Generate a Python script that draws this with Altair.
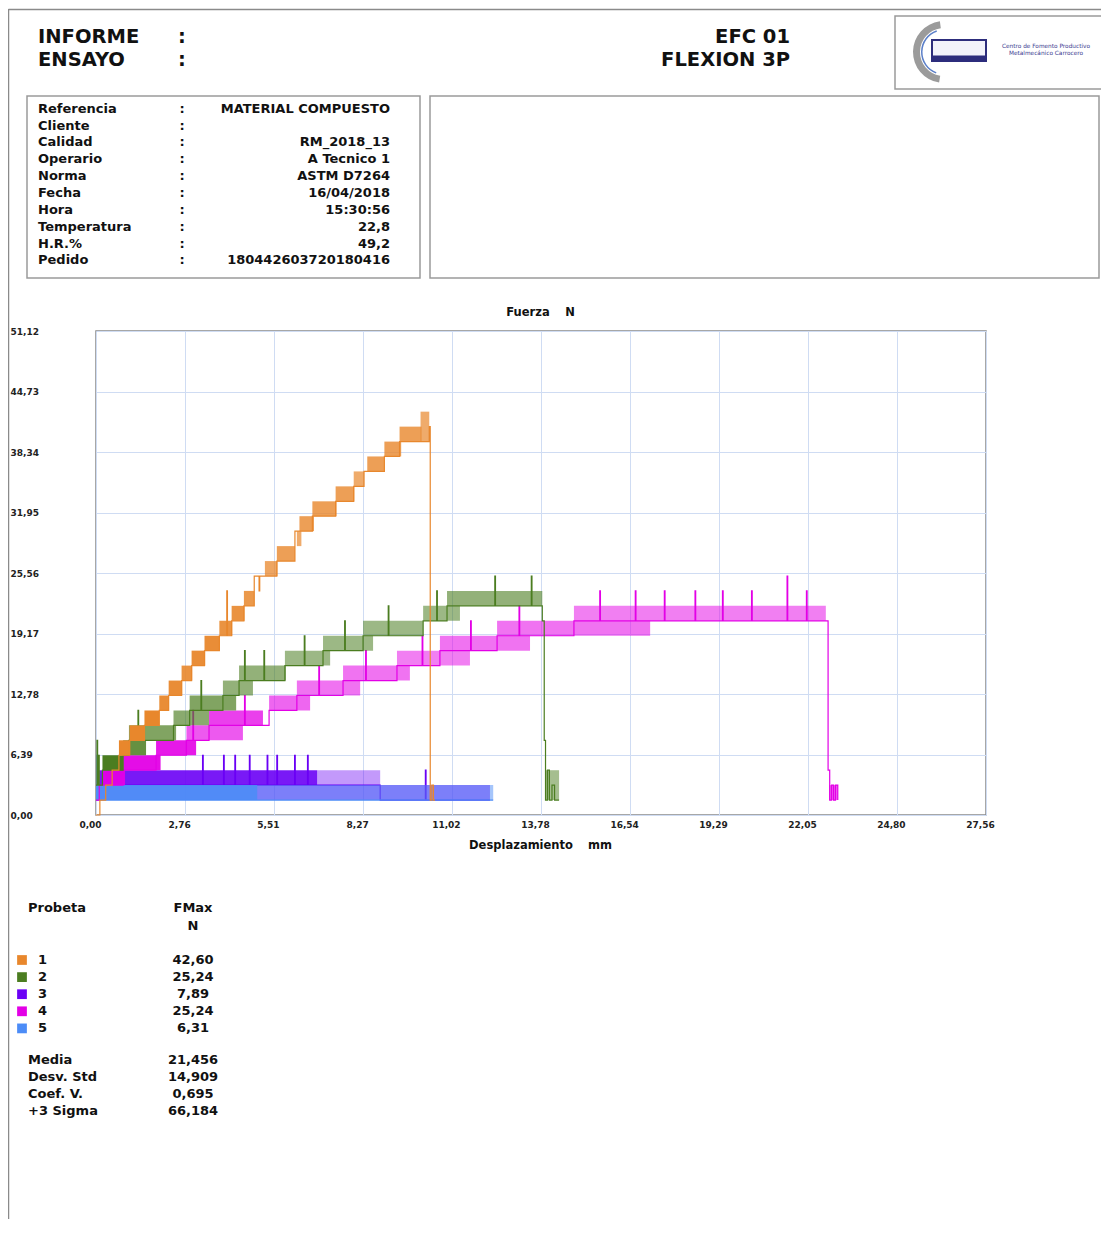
import altair as alt
import pandas as pd

FONT = "DejaVu Sans"

# ---------------- data ----------------
series_names = ["1", "2", "3", "4", "5"]
series_colors = ["#E8872C", "#4B7D20", "#6A00F5", "#E300E6", "#4C8CF7"]
fmax_values = ["42,60", "25,24", "7,89", "25,24", "6,31"]
stat_labels = ["Media", "Desv. Std", "Coef. V.", "+3 Sigma"]
stat_values = ["21,456", "14,909", "0,695", "66,184"]
info_labels = ["Referencia", "Cliente", "Calidad", "Operario", "Norma", "Fecha",
               "Hora", "Temperatura", "H.R.%", "Pedido"]
info_values = ["MATERIAL COMPUESTO", "", "RM_2018_13", "A Tecnico 1", "ASTM D7264",
               "16/04/2018", "15:30:56", "22,8", "49,2", "180442603720180416"]
x_ticks = [0, 2.76, 5.51, 8.27, 11.02, 13.78, 16.54, 19.29, 22.05, 24.80, 27.56]
y_ticks = [0, 6.39, 12.78, 19.17, 25.56, 31.95, 38.34, 44.73, 51.12]

# Probeta 1 (orange): bands where the signal toggles between two levels
o_x0 = [0.71, 1.04, 1.50, 1.96, 2.25, 2.65, 2.96, 3.36, 3.82, 4.20, 4.58, 5.23, 5.60, 6.22, 6.30, 6.70, 7.42, 7.98, 8.40, 8.93, 9.40, 10.05]
o_x1 = [1.06, 1.52, 1.96, 2.26, 2.67, 2.98, 3.38, 3.84, 4.22, 4.60, 4.90, 5.62, 6.16, 6.36, 6.75, 7.45, 8.00, 8.30, 8.93, 9.45, 10.08, 10.32]
o_lo = [6.31, 7.89, 9.47, 11.04, 12.62, 14.20, 15.78, 17.36, 18.93, 20.51, 22.09, 25.24, 26.82, 28.40, 29.98, 31.56, 33.13, 34.71, 36.29, 37.87, 39.44, 39.44]
o_hi = [7.89, 9.47, 11.04, 12.62, 14.20, 15.78, 17.36, 18.93, 20.51, 22.09, 23.67, 26.82, 28.40, 29.98, 31.56, 33.13, 34.71, 36.29, 37.87, 39.44, 41.02, 42.60]
o_dens = [1.0, 1.0, 1.0, 0.95, 0.95, 0.9, 0.95, 0.95, 0.9, 0.9, 0.85, 0.75, 0.8, 0.7, 0.8, 0.8, 0.8, 0.7, 0.8, 0.8, 0.8, 0.7]
o_lx = [0.00, 0.12, 0.30, 0.50, 0.71, 1.04, 1.50, 1.96, 2.25, 2.65, 2.96, 3.36, 3.82, 4.05, 4.07, 4.20, 4.58, 4.90, 5.05, 5.07, 5.23, 5.60, 6.16, 6.70, 7.42, 7.98, 8.30, 8.40, 8.93, 9.40, 10.05, 10.32, 10.35, 10.40, 10.45, 10.50]
o_ly = [0.00, 1.58, 3.16, 4.73, 6.31, 7.89, 9.47, 11.04, 12.62, 14.20, 15.78, 17.36, 18.93, 23.67, 18.93, 20.51, 22.09, 25.24, 23.67, 25.24, 25.24, 26.82, 29.98, 31.56, 33.13, 34.71, 36.29, 36.29, 37.87, 39.44, 39.44, 41.02, 1.58, 3.16, 1.58, 1.58]

# Probeta 2 (green)
g_x0 = [0.20, 0.84, 1.02, 2.40, 2.90, 3.93, 4.43, 5.85, 7.03, 8.27, 10.13, 10.87, 13.92]
g_x1 = [0.84, 1.55, 2.48, 3.50, 4.34, 4.86, 5.88, 7.25, 8.58, 10.13, 11.27, 13.82, 14.34]
g_lo = [4.73, 6.31, 7.89, 9.47, 11.04, 12.62, 14.20, 15.78, 17.36, 18.93, 20.51, 22.09, 1.58]
g_hi = [6.31, 7.89, 9.47, 11.04, 12.62, 14.20, 15.78, 17.36, 18.93, 20.51, 22.09, 23.67, 4.73]
g_dens = [1.0, 0.85, 0.7, 0.65, 0.7, 0.6, 0.6, 0.55, 0.55, 0.55, 0.55, 0.6, 0.5]
g_lx = [0.00, 0.03, 0.05, 0.08, 0.10, 0.20, 0.84, 1.02, 1.30, 1.32, 2.40, 2.90, 3.25, 3.27, 3.93, 4.43, 4.60, 4.62, 5.20, 5.22, 5.85, 6.45, 6.47, 7.03, 7.70, 7.72, 8.27, 9.05, 9.07, 10.13, 10.55, 10.57, 10.87, 12.35, 12.37, 13.48, 13.50, 13.82, 13.88, 13.92, 13.98, 14.04, 14.12, 14.20, 14.34]
g_ly = [3.16, 7.89, 3.16, 6.31, 3.16, 4.73, 6.31, 7.89, 11.04, 7.89, 9.47, 11.04, 14.20, 11.04, 12.62, 14.20, 17.36, 14.20, 17.36, 14.20, 15.78, 18.93, 15.78, 17.36, 20.51, 17.36, 18.93, 22.09, 18.93, 20.51, 23.67, 20.51, 22.09, 25.24, 22.09, 25.24, 22.09, 20.51, 7.89, 1.58, 4.73, 1.58, 3.16, 1.58, 1.58]

# Probeta 3 (violet)
p_x0 = [0.10, 0.10, 6.85]
p_x1 = [6.85, 12.20, 8.80]
p_lo = [3.16, 1.58, 3.16]
p_hi = [4.73, 3.16, 4.73]
p_dens = [0.9, 0.55, 0.4]
p_lx = [0.00, 0.10, 3.30, 3.32, 3.95, 3.97, 4.30, 4.32, 4.75, 4.77, 5.30, 5.32, 5.60, 5.62, 6.15, 6.17, 6.55, 6.57, 6.85, 8.80, 10.20, 10.22, 12.20]
p_ly = [1.58, 3.16, 6.31, 3.16, 6.31, 3.16, 6.31, 3.16, 6.31, 3.16, 6.31, 3.16, 6.31, 3.16, 6.31, 3.16, 6.31, 3.16, 3.16, 1.58, 4.73, 1.58, 1.58]

# Probeta 4 (magenta)
m_x0 = [0.20, 0.84, 1.86, 2.80, 3.50, 5.36, 6.22, 7.65, 9.32, 10.65, 12.42, 14.80, 22.70]
m_x1 = [0.90, 2.00, 3.10, 4.55, 5.17, 6.63, 8.18, 9.72, 11.58, 13.44, 17.16, 22.60, 22.97]
m_lo = [3.16, 4.73, 6.31, 7.89, 9.47, 11.04, 12.62, 14.20, 15.78, 17.36, 18.93, 20.51, 1.58]
m_hi = [4.73, 6.31, 7.89, 9.47, 11.04, 12.62, 14.20, 15.78, 17.36, 18.93, 20.51, 22.09, 3.16]
m_dens = [0.95, 0.95, 0.9, 0.65, 0.75, 0.6, 0.55, 0.55, 0.5, 0.55, 0.55, 0.5, 0.6]
m_lx = [0.00, 0.10, 0.20, 0.84, 1.86, 2.80, 3.00, 3.02, 3.50, 4.60, 4.62, 5.36, 6.22, 6.90, 6.92, 7.65, 8.35, 8.37, 9.32, 10.10, 10.12, 10.65, 11.60, 11.62, 12.42, 13.10, 13.12, 14.80, 15.60, 15.62, 16.70, 16.72, 17.60, 17.62, 18.55, 18.57, 19.40, 19.42, 20.30, 20.32, 21.40, 21.42, 22.00, 22.02, 22.62, 22.67, 22.72, 22.78, 22.84, 22.90, 22.97]
m_ly = [1.58, 3.16, 3.16, 4.73, 6.31, 7.89, 11.04, 7.89, 9.47, 12.62, 9.47, 11.04, 12.62, 15.78, 12.62, 14.20, 17.36, 14.20, 15.78, 18.93, 15.78, 17.36, 20.51, 17.36, 18.93, 22.09, 18.93, 20.51, 23.67, 20.51, 23.67, 20.51, 23.67, 20.51, 23.67, 20.51, 23.67, 20.51, 23.67, 20.51, 25.24, 20.51, 23.67, 20.51, 20.51, 4.73, 1.58, 3.16, 1.58, 3.16, 1.58]

# Probeta 5 (blue)
b_x0 = [0.00, 5.00]
b_x1 = [5.00, 12.30]
b_lo = [1.58, 1.58]
b_hi = [3.16, 3.16]
b_dens = [0.95, 0.5]
b_lx = [0.00, 0.03, 0.06, 12.30]
b_ly = [1.58, 6.31, 1.58, 1.58]

# ---------------- layout helpers ----------------
OX, OY = 96, 331  # page position of plot origin
W, H = 890, 484

color_scale = alt.Scale(domain=series_names, range=series_colors)
X_SCALE = alt.Scale(domain=[0, 27.56], nice=False, zero=False)
Y_SCALE = alt.Scale(domain=[0, 51.12], nice=False, zero=False)
LBL = "replace(format(datum.value, '.2f'), '.', ',')"
X_AXIS = alt.Axis(values=x_ticks, labelExpr=LBL, title=None, labelPadding=5, labelOffset=-6,
                  tickSize=0, ticks=False, labelFlush=False, labelOverlap=False)
Y_AXIS = alt.Axis(values=y_ticks, labelExpr=LBL, title=None, labelAlign="left",
                  labelBaseline="middle", labelPadding=86, tickSize=0, ticks=False,
                  labelFlush=False, labelOverlap=False)


def band_layer(name, x0, x1, lo, hi, dens):
    df = pd.DataFrame({"s": name, "x0": x0, "x1": x1, "lo": lo, "hi": hi, "dens": dens})
    return alt.Chart(df).mark_rect(strokeWidth=0).encode(
        x=alt.X("x0:Q", scale=X_SCALE, axis=X_AXIS), x2="x1:Q",
        y=alt.Y("lo:Q", scale=Y_SCALE, axis=Y_AXIS), y2="hi:Q",
        color=alt.Color("s:N", scale=color_scale, legend=None),
        opacity=alt.Opacity("dens:Q", scale=None))


def trace_layer(name, xs, ys):
    df = pd.DataFrame({"s": name, "x": xs, "y": ys})
    return alt.Chart(df).mark_line(interpolate="step-after", strokeWidth=1.2).encode(
        x=alt.X("x:Q", scale=X_SCALE, axis=X_AXIS),
        y=alt.Y("y:Q", scale=Y_SCALE, axis=Y_AXIS),
        color=alt.Color("s:N", scale=color_scale, legend=None))


def texts(items, align, size, color="#111111"):
    df = pd.DataFrame({"t": [i[0] for i in items],
                       "px": [i[1] - OX for i in items],
                       "py": [i[2] - OY for i in items]})
    return alt.Chart(df).mark_text(align=align, baseline="middle", font=FONT, fontSize=size,
                                   fontWeight="bold", color=color).encode(
        x=alt.X("px:Q", scale=None, axis=None), y=alt.Y("py:Q", scale=None, axis=None),
        text="t:N")


def boxes(rects, stroke="#9a9a9a", width=1.5, fill="white", fill_op=0.0):
    df = pd.DataFrame({"a": [r[0] - OX for r in rects], "b": [r[2] - OX for r in rects],
                       "c": [r[1] - OY for r in rects], "d": [r[3] - OY for r in rects]})
    return alt.Chart(df).mark_rect(stroke=stroke, strokeWidth=width, fill=fill,
                                   fillOpacity=fill_op).encode(
        x=alt.X("a:Q", scale=None, axis=None), x2="b:Q",
        y=alt.Y("c:Q", scale=None, axis=None), y2="d:Q")


def rules(lines, color="#8a8a8a", width=1.5):
    df = pd.DataFrame({"a": [r[0] - OX for r in lines], "b": [r[2] - OX for r in lines],
                       "c": [r[1] - OY for r in lines], "d": [r[3] - OY for r in lines]})
    return alt.Chart(df).mark_rule(color=color, strokeWidth=width).encode(
        x=alt.X("a:Q", scale=None, axis=None), x2="b:Q",
        y=alt.Y("c:Q", scale=None, axis=None), y2="d:Q")


one = pd.DataFrame({"k": [0]})

# ---------------- data layers (draw order 3,5,4,2,1) ----------------
data_layers = [
    band_layer("3", p_x0, p_x1, p_lo, p_hi, p_dens), trace_layer("3", p_lx, p_ly),
    band_layer("5", b_x0, b_x1, b_lo, b_hi, b_dens), trace_layer("5", b_lx, b_ly),
    band_layer("4", m_x0, m_x1, m_lo, m_hi, m_dens), trace_layer("4", m_lx, m_ly),
    band_layer("2", g_x0, g_x1, g_lo, g_hi, g_dens), trace_layer("2", g_lx, g_ly),
    band_layer("1", o_x0, o_x1, o_lo, o_hi, o_dens), trace_layer("1", o_lx, o_ly),
]

# ---------------- report decoration ----------------
deco = []
deco.append(rules([(8.5, 9.5, 1104, 9.5), (8.5, 9, 8.5, 1219)]))
deco.append(boxes([(27, 96, 420, 278), (430, 96, 1099, 278), (895, 16, 1104, 89)]))

# header
deco.append(texts([("INFORME", 38, 37), ("ENSAYO", 38, 60)], "left", 19.5))
deco.append(texts([(":", 182, 37), (":", 182, 60)], "center", 19.5))
deco.append(texts([("EFC 01", 790, 37), ("FLEXION 3P", 790, 60)], "right", 19.5))

# info box
row_y = [108.7 + 16.86 * i for i in range(len(info_labels))]
deco.append(texts([(lab, 38, yy) for lab, yy in zip(info_labels, row_y)], "left", 13))
deco.append(texts([(":", 182, yy) for yy in row_y], "center", 13))
deco.append(texts([(v, 390, yy) for v, yy in zip(info_values, row_y) if v], "right", 13))

# logo
deco.append(alt.Chart(one).mark_arc(radius=31, radius2=24, theta=3.3, theta2=6.15,
                                    color="#9b9b9b").encode(x=alt.value(944 - OX), y=alt.value(52 - OY)))
deco.append(alt.Chart(one).mark_arc(radius=23, radius2=21.5, theta=3.5, theta2=5.95,
                                    color="#5b7fc8").encode(x=alt.value(944 - OX), y=alt.value(52 - OY)))
deco.append(boxes([(932, 40, 986, 61)], stroke="#2d2d7c", width=2, fill="#f2f2fa", fill_op=1))
deco.append(boxes([(932, 56, 986, 61)], stroke="#2d2d7c", width=1, fill="#2d2d7c", fill_op=1))
deco.append(alt.Chart(pd.DataFrame({
    "t": ["Centro de Fomento Productivo", "Metalmecánico Carrocero"],
    "px": [1046 - OX, 1046 - OX], "py": [46 - OY, 53 - OY]})).mark_text(
    align="center", baseline="middle", font=FONT, fontSize=5.8, color="#3b3b90").encode(
    x=alt.X("px:Q", scale=None, axis=None), y=alt.Y("py:Q", scale=None, axis=None), text="t:N"))

# axis titles
deco.append(texts([("Fuerza", 528, 313), ("N", 570, 313)], "center", 11.5))
deco.append(texts([("Desplazamiento", 521, 846), ("mm", 600, 846)], "center", 11.5))

# results table
leg_y = [960 + 17.1 * i for i in range(5)]
stat_y = [1059.5 + 17 * i for i in range(4)]
deco.append(texts([("Probeta", 28, 908)], "left", 13))
deco.append(texts([("FMax", 193, 908), ("N", 193, 926)], "center", 13))
sq = pd.DataFrame({"s": series_names, "px": [22 - OX] * 5, "py": [yy - OY for yy in leg_y]})
deco.append(alt.Chart(sq).mark_square(size=95, opacity=1).encode(
    x=alt.X("px:Q", scale=None, axis=None), y=alt.Y("py:Q", scale=None, axis=None),
    color=alt.Color("s:N", scale=color_scale, legend=None)))
deco.append(texts([(n, 38, yy) for n, yy in zip(series_names, leg_y)], "left", 13))
deco.append(texts([(v, 193, yy) for v, yy in zip(fmax_values, leg_y)], "center", 13))
deco.append(texts([(s, 28, yy) for s, yy in zip(stat_labels, stat_y)], "left", 13))
deco.append(texts([(v, 193, yy) for v, yy in zip(stat_values, stat_y)], "center", 13))

chart = alt.layer(*data_layers, *deco).properties(
    width=W, height=H,
    autosize=alt.AutoSizeParams(type="none"),
    padding={"left": 88, "top": 323, "right": 115, "bottom": 405},
    background="white",
).configure_view(
    stroke="#8a8a8a", strokeWidth=1.5, fill="white"
).configure_axis(
    grid=True, gridColor="#cfdcf3", gridWidth=1, domain=False,
    labelFont=FONT, labelFontWeight="bold", labelFontSize=9, labelColor="#222222"
)

chart.save("out.html", embed_options={"renderer": "svg", "actions": False})
